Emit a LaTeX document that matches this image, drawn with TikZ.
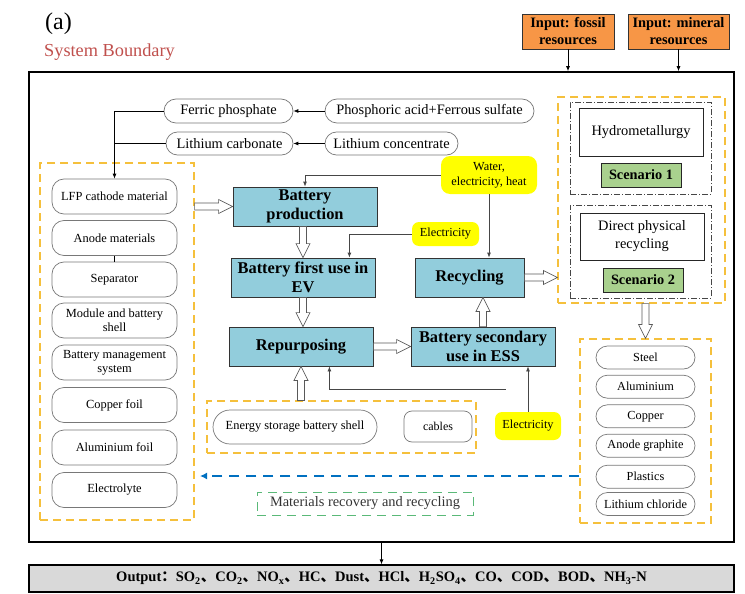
\documentclass[tikz,border=0pt]{standalone}
\usepackage{fontspec}
\setmainfont{Liberation Serif}
\newfontfamily\cjk{Noto Sans CJK SC}
\usetikzlibrary{arrows.meta,calc}
\definecolor{sysred}{RGB}{192,80,77}
\definecolor{inorange}{RGB}{247,150,70}
\definecolor{boxblue}{RGB}{146,205,220}
\definecolor{ybox}{RGB}{255,255,0}
\definecolor{ydash}{RGB}{245,192,60}
\definecolor{scgreen}{RGB}{169,209,142}
\definecolor{outgray}{RGB}{217,217,217}
\definecolor{pillgray}{RGB}{120,120,120}
\definecolor{linegray}{RGB}{70,70,70}
\definecolor{recblue}{RGB}{0,112,192}
\definecolor{recgreen}{RGB}{90,185,120}
\newcommand\dun{{\cjk 、}}
\newcommand\fsz[2]{\fontsize{#1pt}{#2pt}\selectfont}
\newcommand\harrow[2]{%
  \draw[hollow] let \p1=#1, \p2=#2, \n1={atan2(\y2-\y1,\x2-\x1)}, \n2={veclen(\x2-\x1,\y2-\y1)} in
  [shift={(\p1)}, rotate=\n1] (0pt,-3.5pt) -- ({\n2*1pt-14pt},-3.5pt) -- ({\n2*1pt-14pt},-7pt) -- ({\n2*1pt},0pt) -- ({\n2*1pt-14pt},7pt) -- ({\n2*1pt-14pt},3.5pt) -- (0pt,3.5pt) -- cycle;}
\tikzset{
  base/.style={inner sep=0pt, align=center},
  sz/.style 2 args={minimum width=#1pt, minimum height=#2pt},
  pill/.style={base, draw=pillgray, line width=0.7pt, rounded corners=#1},
  inbox/.style={base, draw=black!80, line width=0.8pt, fill=inorange, font=\bfseries\fsz{14.4}{17}},
  bbox/.style={base, draw=black!80, line width=0.8pt, fill=boxblue, font=\bfseries\fsz{16.4}{19.5}},
  ybx/.style={base, fill=ybox, rounded corners=#1, font=\fsz{12.3}{15}},
  ydashbox/.style={base, draw=ydash, line width=1.2pt, dash pattern=on 8pt off 5pt},
  ddbox/.style={base, draw=linegray, line width=0.8pt, dash pattern=on 6pt off 2pt on 1pt off 2pt},
  wbox/.style={base, draw=black!85, line width=0.8pt, font=\fsz{14.4}{18}},
  scbox/.style={base, draw=black!85, line width=0.8pt, fill=scgreen, font=\bfseries\fsz{14.3}{17}},
  blk/.style={draw=black, line width=0.8pt, ->},
  gline/.style={draw=linegray, line width=0.8pt, ->},
  hollow/.style={draw=black!65, line width=0.7pt, fill=white},
}
\begin{document}
\begin{tikzpicture}[x=1pt,y=-1pt, >={Latex[length=5pt,width=4pt]}]
\useasboundingbox (0,0) rectangle (745,594);

\node[base, anchor=west, font=\fsz{24}{28}] (lbl) at (45,24) {(a)};
\node[base, anchor=west, text=sysred, font=\fsz{18.3}{22}] (sb) at (44,52) {System Boundary};

\node[draw, line width=1.5pt, sz={705}{470}] (sys) at (381.5,307) {};

% inputs
\node[inbox, sz={92}{35}] (fossil) at (568,31.5) {Input: fossil\\resources};
\node[inbox, sz={101}{35}] (mineral) at (678.5,31.5) {Input: mineral\\resources};
\draw[blk] (fossil.south) -- (fossil.south |- sys.north);
\draw[blk] (mineral.south) -- (mineral.south |- sys.north);

% output
\node[base, draw, line width=1.2pt, fill=outgray, sz={705}{27}, font=\bfseries\fsz{14.5}{17}] (out) at (381.5,578.5)
 {Output{\cjk ：}SO\textsubscript{2}\dun CO\textsubscript{2}\dun NO\textsubscript{x}\dun HC\dun Dust\dun HCl\dun H\textsubscript{2}SO\textsubscript{4}\dun CO\dun COD\dun BOD\dun NH\textsubscript{3}-N};
\draw[blk] (out.north |- sys.south) -- (out.north);

% raw materials
\node[pill=12pt, sz={129}{24}, font=\fsz{14.4}{17}] (fp) at (228.5,111) {Ferric phosphate};
\node[pill=12pt, sz={209}{24}, font=\fsz{14.4}{17}] (pa) at (429.5,111) {Phosphoric acid+Ferrous sulfate};
\node[pill=11.5pt, sz={127}{23}, font=\fsz{14.4}{17}] (lc) at (229.5,143.5) {Lithium carbonate};
\node[pill=11.5pt, sz={133}{23}, font=\fsz{14.4}{17}] (lcon) at (391.5,143.5) {Lithium concentrate};
\draw[blk] (pa.west) -- (fp.east);
\draw[blk] (lcon.west) -- (lc.east);

% left column
\node[ydashbox, sz={154}{357}] (lbox) at (117,341.5) {};
\begin{scope}[every node/.style={pill=12pt, sz={125}{35}, font=\fsz{12.4}{14.3}}]
\node (lfp) at (114.5,196.5) {LFP cathode material};
\node (anode) at (114.5,238) {Anode materials};
\node (sep) at (114.5,279.5) {Separator};
\node (mod) at (114.5,320.5) {Module and battery\\shell};
\node (bms) at (114.5,362.5) {Battery management\\system};
\node (cu) at (114.5,405) {Copper foil};
\node (al) at (114.5,447.5) {Aluminium foil};
\node (ele) at (114.5,490) {Electrolyte};
\end{scope}
\draw[blk] (fp.west) -| (lfp.north);
\draw[draw=black, line width=0.8pt] (lc.west) -- (lc.west -| lfp.north);
\draw[draw=black, line width=0.7pt] (anode.south) -- (sep.north);

% main process boxes
\node[bbox, sz={144}{39}] (prod) at (305,206.5) {Battery\\production};
\node[bbox, sz={144}{39}] (ev) at (303,277.5) {Battery first use in\\EV};
\node[bbox, sz={144}{39}] (rep) at (301,346.5) {Repurposing};
\node[bbox, sz={109}{39}] (rec) at (469.5,277.5) {Recycling};
\node[bbox, sz={144}{39}] (ess) at (483,346.5) {Battery secondary\\use in ESS};

% energy inputs
\node[ybx=9pt, sz={96}{38}] (water) at (489,175) {Water,\\electricity, heat};
\node[ybx=7pt, sz={67}{24}] (el1) at (445.5,234) {Electricity};
\node[ybx=7pt, sz={66}{28}] (el2) at (528,426) {Electricity};
\draw[gline] (water.west) -| (prod.north);
\draw[gline] (water.south) -- (water.south |- rec.north);
\draw[gline] (el1.west) -| ([xshift=-26pt]ev.north east);
\draw[gline] (el2.north) -- (el2.north |- ess.south);
\coordinate (j) at ($(el2.north)!0.5!(ess.south)$);
\draw[gline] (j) -| ([xshift=-44pt]rep.south east);

% scenarios
\node[ydashbox, sz={167}{206}] (scen) at (641.5,200) {};
\node[ddbox, sz={141}{92}] (dd1) at (640.5,148) {};
\node[wbox, sz={124}{48}] (hydro) at (641,132) {Hydrometallurgy};
\node[scbox, sz={80}{24}] (sc1) at (641,175) {Scenario 1};
\node[ddbox, sz={141}{93}] (dd2) at (640.5,251.5) {};
\node[wbox, sz={124}{47}] (dpr) at (642,236.5) {Direct physical\\recycling};
\node[scbox, sz={80}{24}] (sc2) at (643,280) {Scenario 2};

% recovered materials
\node[ydashbox, sz={131}{184}] (mat) at (645.5,431) {};
\begin{scope}[every node/.style={pill=11.5pt, sz={99}{23}, font=\fsz{12.3}{14}}]
\node (steel) at (645.5,357.5) {Steel};
\node (alu) at (645.5,386.7) {Aluminium};
\node (copper) at (645.5,416.3) {Copper};
\node (graph) at (645.5,445.7) {Anode graphite};
\node (plast) at (645.5,476.7) {Plastics};
\node (licl) at (645.5,504) {Lithium chloride};
\end{scope}

% energy storage parts
\node[ydashbox, sz={269}{52}] (esbox) at (341.5,427) {};
\node[pill=17pt, sz={164}{34}, font=\fsz{12.4}{14}] (shell) at (295,427) {Energy storage battery shell};
\node[pill=8pt, sz={68}{31}, font=\fsz{12}{14}] (cab) at (438,426.5) {cables};

% recovery loop
\coordinate (recend) at (200,476);
\draw[draw=recblue, line width=1.8pt, dash pattern=on 10pt off 7pt, -{Latex[length=7pt,width=7pt]}] (mat.west |- recend) -- (recend);
\node[base, draw=recgreen, line width=1pt, dash pattern=on 9pt off 6pt, sz={216}{23}, font=\fsz{14.4}{17}, text=black!80] (mrr) at (365,503.5) {Materials recovery and recycling};

% hollow arrows
\harrow{(lbox.east |- prod.west)}{(prod.west)}
\harrow{(ev.north |- prod.south)}{(ev.north)}
\harrow{(ev.south)}{(ev.south |- rep.north)}
\harrow{(rep.east)}{(ess.west)}
\harrow{(ess.north)}{(ess.north |- rec.south)}
\harrow{(rec.east)}{(rec.east -| scen.west)}
\harrow{(mat.north |- scen.south)}{(mat.north)}
\harrow{(rep.south |- esbox.north)}{(rep.south)}
\end{tikzpicture}
\end{document}
